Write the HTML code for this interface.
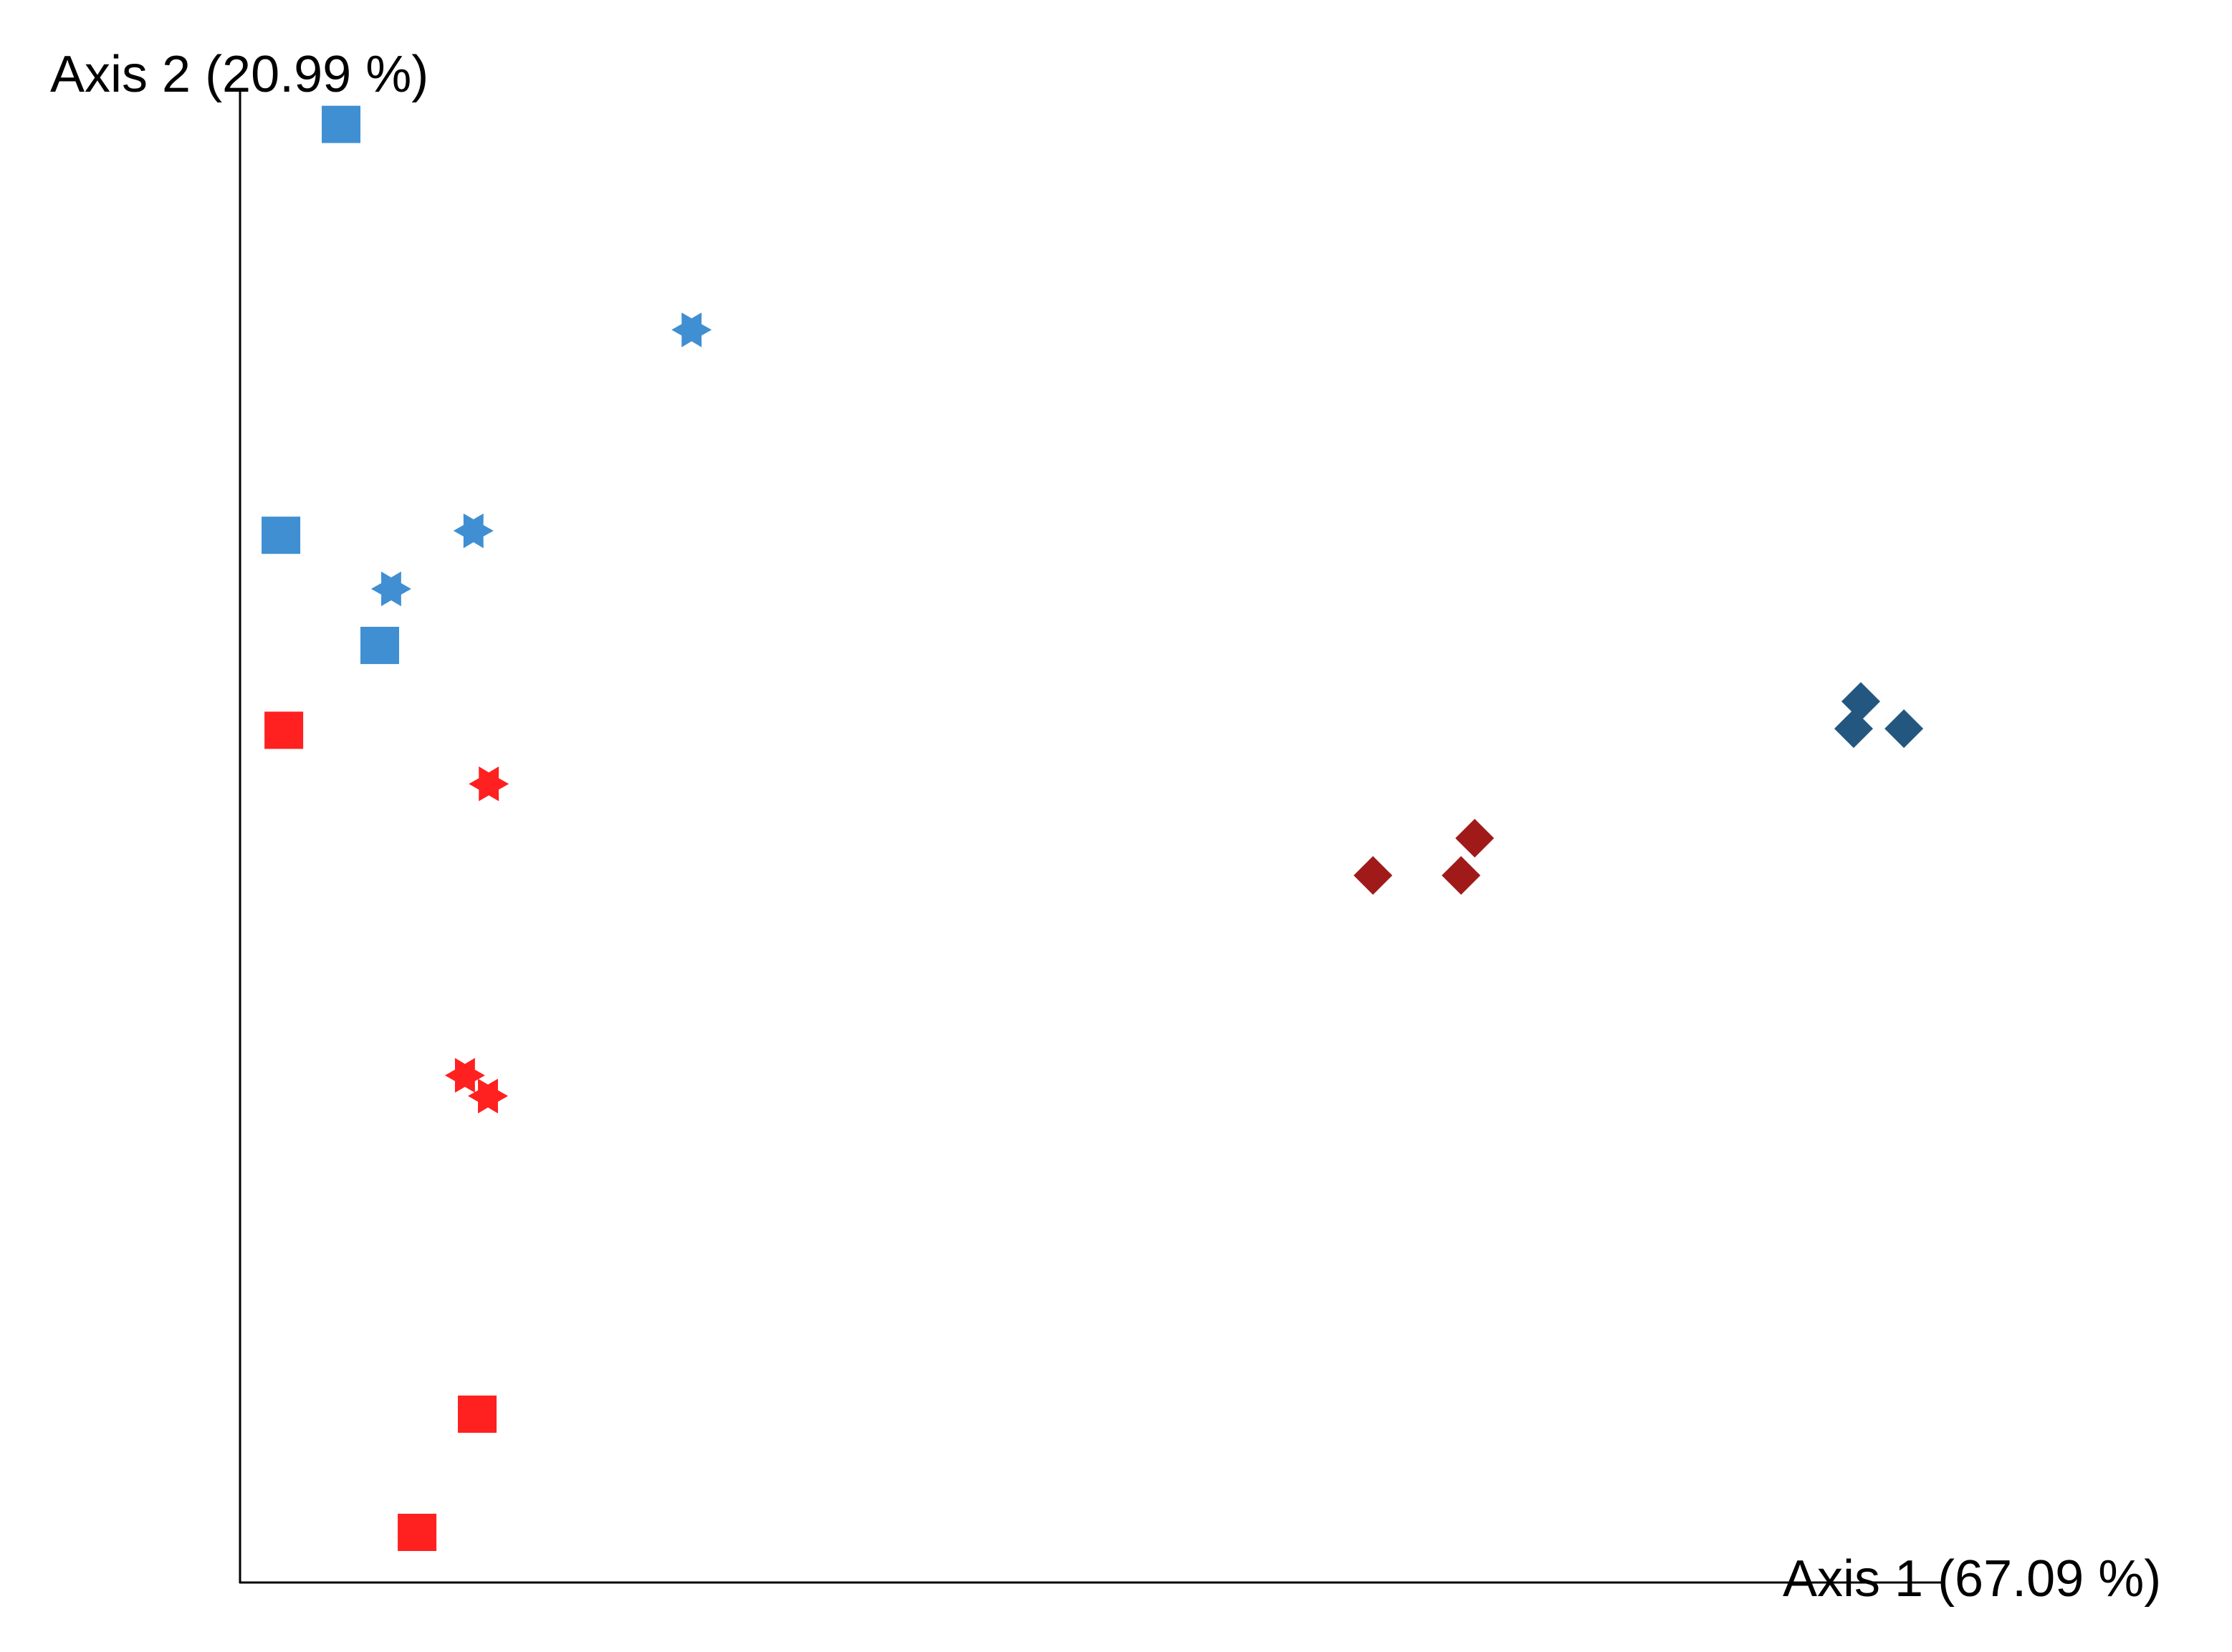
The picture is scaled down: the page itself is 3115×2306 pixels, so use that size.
<!DOCTYPE html>
<html><head><meta charset="utf-8"><style>
html,body{margin:0;padding:0;background:#fff;}
svg{display:block;}
text{font-family:"Liberation Sans",Arial,sans-serif;font-size:72px;fill:#000;}
</style></head><body>
<svg id="chart" width="3115" height="2306" xmlns="http://www.w3.org/2000/svg">
<line x1="335" y1="128" x2="335" y2="2210" stroke="#000" stroke-width="3"/>
<line x1="334" y1="2209" x2="2713" y2="2209" stroke="#000" stroke-width="3"/>
<g id="marks"></g>
<text x="70" y="128">Axis 2 (20.99 %)</text>
<text x="2488" y="2228">Axis 1 (67.09 %)</text>
</svg>
<script>
const groupNames = ["blue-square","blue-star","red-square","red-star","darkred-diamond","darkblue-diamond"];
const groupColors = ["#3f8fd2","#3f8fd2","#ff2020","#ff2020","#a01a1a","#23577f"];
const groupShapes = ["square","star","square","star","diamond","diamond"];
const xValues = [
  [5.93,2.40,8.20],
  [26.5,13.7,8.87],
  [2.57,13.92,10.39],
  [14.6,13.20,14.55],
  [72.46,66.49,71.66],
  [95.12,94.70,97.65]
];
const yValues = [
  [97.9,70.3,62.9],
  [84.1,70.6,66.7],
  [57.2,11.26,3.32],
  [53.6,34.02,32.63],
  [49.95,47.45,47.45],
  [59.14,57.31,57.31]
];
const X0=335,X1=2713,Y0=2208,Y1=130;
function sx(v){return X0+v/100*(X1-X0);}
function sy(v){return Y0-v/100*(Y0-Y1);}
const NS="http://www.w3.org/2000/svg";
const g=document.getElementById('marks');
function starPts(cx,cy){
  const R=28,r=16;let p=[];
  for(let i=0;i<12;i++){const a=i*Math.PI/6;const rr=i%2?r:R;p.push((cx+rr*Math.cos(a)).toFixed(1)+","+(cy+rr*Math.sin(a)).toFixed(1));}
  return p.join(" ");
}
for(let gi=0;gi<groupNames.length;gi++){
  for(let i=0;i<xValues[gi].length;i++){
    const cx=sx(xValues[gi][i]),cy=sy(yValues[gi][i]);
    let el;
    if(groupShapes[gi]==="square"){
      el=document.createElementNS(NS,'rect');
      el.setAttribute('x',cx-27);el.setAttribute('y',cy-26);
      el.setAttribute('width',54);el.setAttribute('height',52);
    }else if(groupShapes[gi]==="star"){
      el=document.createElementNS(NS,'polygon');
      el.setAttribute('points',starPts(cx,cy));
    }else{
      el=document.createElementNS(NS,'polygon');
      const d=27;
      el.setAttribute('points',`${cx},${cy-d} ${cx+d},${cy} ${cx},${cy+d} ${cx-d},${cy}`);
    }
    el.setAttribute('fill',groupColors[gi]);
    
    
    g.appendChild(el);
  }
}
</script>
</body></html>
